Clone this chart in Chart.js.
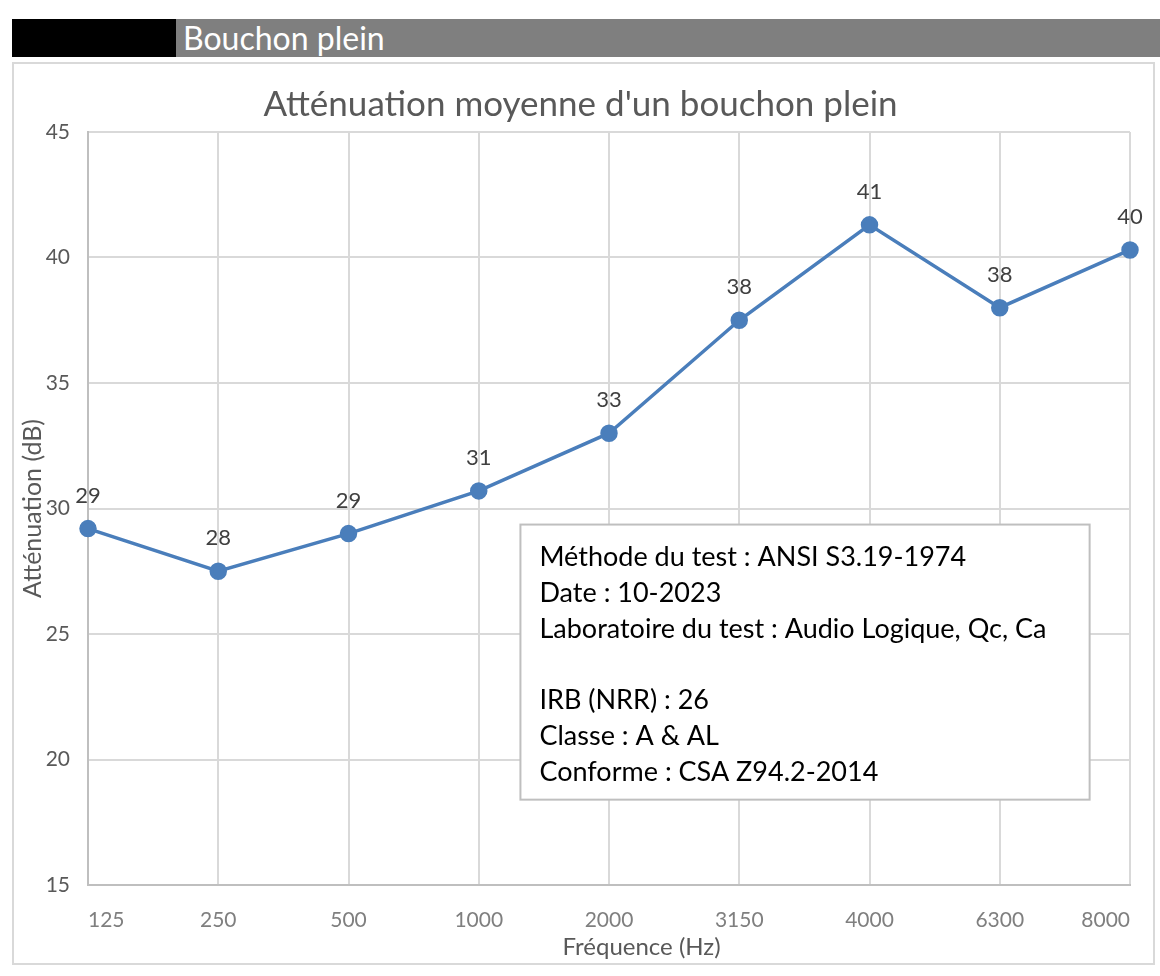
<!DOCTYPE html>
<html>
<head>
<meta charset="utf-8">
<script src="https://cdn.jsdelivr.net/npm/chart.js@4.4.0/dist/chart.umd.min.js"></script>
<style>
  body { margin: 0; background: #fff; width: 1160px; height: 976px; position: relative; overflow: hidden; font-family: Lato, "Open Sans", sans-serif; }
  .header { position: absolute; top: 19px; left: 12px; width: 1148px; height: 38px; background: #7f7f7f; }
  .header .black { position: absolute; left: 0; top: 0; width: 164px; height: 38px; background: #000; }
  .header .label { position: absolute; left: 171px; top: 0; line-height: 38px; color: #fff; font-size: 32px; }
  .box { position: absolute; left: 12px; top: 62px; width: 1139px; height: 899px; border: 2px solid #d9d9d9; }
  .box canvas { display: block; }
</style>
</head>
<body>
<div class="header"><div class="black"></div><div class="label">Bouchon plein</div></div>
<div class="box"><canvas id="attChart" width="1139" height="899"></canvas></div>
<script>
const frequencies = ["125", "250", "500", "1000", "2000", "3150", "4000", "6300", "8000"];
const attenuation = [29.2, 27.5, 29.0, 30.7, 33.0, 37.5, 41.3, 38.0, 40.3];
const infoLines = [
  "Méthode du test : ANSI S3.19-1974",
  "Date : 10-2023",
  "Laboratoire du test : Audio Logique, Qc, Ca",
  "",
  "IRB (NRR) : 26",
  "Classe : A & AL",
  "Conforme : CSA Z94.2-2014"
];

const FONT = "Lato, 'Open Sans', sans-serif";

// value labels above each point
const pointLabels = {
  id: "pointLabels",
  afterDatasetsDraw(chart) {
    const ctx = chart.ctx;
    const meta = chart.getDatasetMeta(0);
    ctx.save();
    ctx.font = "22px " + FONT;
    ctx.fillStyle = "#404040";
    ctx.textAlign = "center";
    ctx.textBaseline = "middle";
    meta.data.forEach((pt, i) => {
      ctx.fillText(Math.round(attenuation[i]), pt.x, pt.y - 33);
    });
    ctx.restore();
  }
};

// info text box inside the plot + x axis title (sits a bit right of center in the original)
const infoBox = {
  id: "infoBox",
  afterDraw(chart) {
    const ctx = chart.ctx;
    const x = chart.scales.x, y = chart.scales.y;
    const left = x.getPixelForValue(3.32);
    const right = x.getPixelForValue(7.69);
    const top = y.getPixelForValue(29.36);
    const bottom = y.getPixelForValue(18.4);
    ctx.save();
    ctx.fillStyle = "#fff";
    ctx.fillRect(left, top, right - left, bottom - top);
    ctx.strokeStyle = "#bfbfbf";
    ctx.lineWidth = 2;
    ctx.strokeRect(left, top, right - left, bottom - top);
    ctx.font = "27px " + FONT;
    ctx.fillStyle = "#000";
    ctx.textBaseline = "middle";
    infoLines.forEach((line, i) => {
      ctx.fillText(line, left + 19, top + 33 + i * 35.8);
    });

    ctx.font = "24px " + FONT;
    ctx.fillStyle = "#595959";
    ctx.textAlign = "center";
    ctx.fillText("Fréquence (Hz)", x.getPixelForValue(4.25), x.bottom - 16);
    ctx.restore();
  }
};

new Chart(document.getElementById("attChart"), {
  type: "line",
  data: {
    labels: frequencies,
    datasets: [{
      data: attenuation,
      borderColor: "#4a7ebb",
      backgroundColor: "#4a7ebb",
      borderWidth: 3.5,
      pointRadius: 7,
      pointHoverRadius: 7,
      tension: 0
    }]
  },
  options: {
    responsive: false,
    animation: false,
    layout: { padding: { left: 16, right: 22, top: 0, bottom: 0 } },
    plugins: {
      legend: { display: false },
      tooltip: { enabled: false },
      title: {
        display: true,
        text: "Atténuation moyenne d'un bouchon plein",
        color: "#595959",
        font: { family: FONT, size: 35, weight: "normal" },
        padding: { top: 20, bottom: 6 }
      }
    },
    scales: {
      x: {
        offset: false,
        grid: { color: "#d9d9d9", lineWidth: 2, drawTicks: false },
        border: { color: "#bfbfbf", width: 2 },
        ticks: { color: "#7f7f7f", font: { family: FONT, size: 21 }, padding: 23, align: "inner", maxRotation: 0 },
        afterFit(scale) { scale.height = 78; }
      },
      y: {
        min: 15,
        max: 45,
        grid: { color: "#d9d9d9", lineWidth: 2, drawTicks: false },
        border: { color: "#bfbfbf", width: 2 },
        ticks: { stepSize: 5, color: "#595959", font: { family: FONT, size: 21 }, padding: 18 },
        title: { display: true, text: "Atténuation (dB)", color: "#595959", font: { family: FONT, size: 25 }, padding: { top: -12, bottom: 2 } },
        afterFit(scale) { scale.width = 58; }
      }
    }
  },
  plugins: [pointLabels, infoBox]
});
</script>
</body>
</html>
